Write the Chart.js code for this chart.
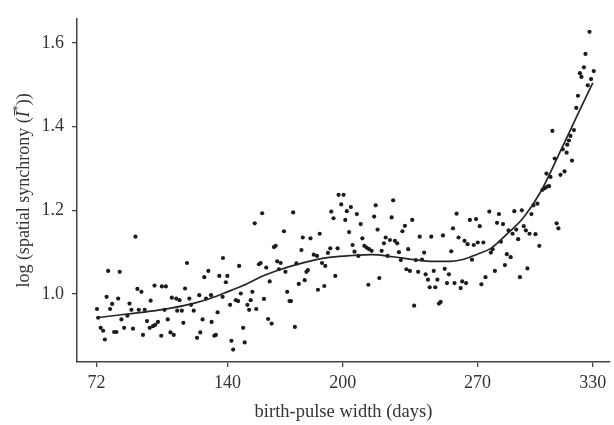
<!DOCTYPE html>
<html><head><meta charset="utf-8">
<script src="https://cdn.jsdelivr.net/npm/chart.js@4.4.1/dist/chart.umd.min.js"></script>
<style>html,body{margin:0;padding:0;background:#fff;}canvas{display:block;}</style>
</head><body>
<canvas id="c" width="614" height="425"></canvas>
<script>
const xTickLabels = [72, 140, 200, 270, 330];
const yTickLabels = [1.0, 1.2, 1.4, 1.6];
const xTitle = 'birth-pulse width (days)';
const yTitleParts = ['log (spatial synchrony (', 'Ī', '*', '))'];

const widthDays = [
  72.2,72.8,74.1,75.4,76.3,77.2,78.0,79.0,80.1,81.1,
  82.3,83.2,84.0,84.9,86.3,88.0,89.1,90.1,90.9,92.2,
  93.2,93.9,95.3,96.1,97.0,98.2,99.6,100.1,101.3,102.1,
  102.5,103.9,105.6,105.9,107.3,108.0,109.0,110.4,111.1,112.1,
  113.4,113.9,115.1,116.3,117.1,118.0,119.0,120.2,121.1,122.5,
  124.2,125.4,125.9,127.1,128.0,128.9,130.1,131.5,131.8,133.2,
  134.0,134.9,135.8,137.5,137.7,139.2,140.0,141.4,142.1,143.0,
  144.4,145.6,146.1,147.0,148.2,149.0,150.4,151.3,152.1,153.0,
  154.2,155.0,156.4,157.3,158.1,159.0,160.2,161.2,162.0,163.0,
  164.2,165.1,165.9,166.8,167.7,169.4,170.2,171.1,172.3,173.1,
  174.2,175.1,175.9,177.1,178.5,179.2,180.2,181.1,181.9,183.2,
  184.9,186.6,187.1,188.0,189.2,190.4,190.9,192.3,193.5,194.0,
  195.2,196.1,197.3,197.8,199.2,200.4,201.3,202.1,203.3,204.2,
  205.1,206.1,207.3,208.1,209.3,210.2,211.2,212.4,213.3,213.7,
  215.0,216.3,217.1,218.1,219.0,220.2,221.4,222.3,223.3,224.5,
  225.4,226.2,227.1,228.3,229.2,230.2,231.0,232.3,233.1,234.0,
  234.9,236.1,237.1,238.0,239.2,240.0,241.2,242.3,243.1,244.3,
  245.2,246.0,247.3,248.1,249.2,250.0,250.9,252.1,253.0,254.2,
  255.2,256.4,257.3,258.1,259.2,260.2,261.3,262.1,263.3,264.1,
  264.9,266.1,267.2,268.1,269.3,270.2,271.2,272.1,273.1,274.2,
  276.2,277.0,277.9,279.1,280.2,281.2,282.2,283.3,284.3,285.3,
  286.2,287.3,288.3,289.2,290.2,291.2,292.1,293.1,294.1,295.2,
  296.0,297.1,298.1,299.1,300.2,301.2,302.2,303.8,305.0,305.9,
  306.4,307.3,308.0,309.0,310.2,311.2,312.1,313.2,314.4,315.3,
  316.4,316.7,317.6,318.4,319.2,320.2,321.4,322.3,323.3,324.1,
  325.4,326.2,327.4,328.3,329.1,330.5
];
const logSync = [
  0.964,0.943,0.919,0.912,0.891,0.993,1.055,0.964,0.976,0.909,
  0.909,0.989,1.053,0.939,0.919,0.948,0.977,0.962,0.917,1.137,
  1.012,0.962,1.005,0.902,0.962,0.935,0.919,0.984,0.923,1.020,
  0.926,0.933,0.900,1.018,0.962,1.018,0.939,0.908,0.991,0.902,
  0.989,0.960,0.985,0.960,0.931,1.013,1.074,0.989,0.974,0.960,
  0.895,0.997,0.908,0.939,1.040,0.989,1.055,0.997,0.933,0.900,
  0.902,0.956,1.043,0.993,1.086,1.028,1.043,0.974,0.888,0.867,
  0.985,0.983,1.067,1.001,0.919,0.884,0.974,0.962,0.985,1.005,
  1.169,0.964,1.071,1.074,1.193,0.988,1.063,0.940,1.030,0.929,
  1.112,1.115,1.078,1.059,1.074,1.150,1.053,1.005,0.983,0.983,
  1.195,0.921,1.073,1.024,1.105,1.135,1.033,1.053,1.057,1.133,
  1.094,1.091,1.010,1.144,1.074,1.019,1.067,1.098,1.109,1.197,
  1.181,1.043,1.109,1.237,1.214,1.237,1.177,1.198,1.148,1.208,
  1.117,1.101,1.191,1.091,1.167,1.133,1.115,1.111,1.022,1.107,
  1.103,1.185,1.212,1.154,1.038,1.103,1.121,1.135,1.091,1.129,
  1.183,1.224,1.127,1.121,1.100,1.081,1.150,1.163,1.059,1.107,
  1.055,1.177,0.972,1.081,1.053,1.137,1.082,1.099,1.047,1.034,
  1.016,1.137,1.055,1.016,1.034,0.977,0.981,1.140,1.060,1.026,
  1.047,1.102,1.157,1.026,1.192,1.135,1.014,1.030,1.127,1.026,
  1.119,1.177,1.082,1.117,1.179,1.123,1.162,1.023,1.123,1.040,
  1.197,1.099,1.107,1.055,1.170,1.191,1.125,1.167,1.069,1.095,
  1.152,1.088,1.144,1.198,1.154,1.131,1.040,1.200,1.162,1.152,
  1.061,1.144,1.191,1.212,1.143,1.216,1.115,1.249,1.253,1.288,
  1.257,1.258,1.280,1.390,1.324,1.169,1.157,1.285,1.346,1.293,
  1.338,1.357,1.367,1.378,1.319,1.392,1.445,1.474,1.528,1.519,
  1.542,1.574,1.499,1.627,1.514,1.533
];

const fitDays = [72, 88, 105, 122, 131, 140, 150, 159, 168, 176, 185, 194, 205, 215, 226, 237, 247, 256, 263, 270, 277, 286, 294, 303, 312, 321, 330];
const fitValues = [0.943, 0.952, 0.962, 0.977, 0.989, 1.005, 1.024, 1.044, 1.059, 1.070, 1.081, 1.088, 1.092, 1.094, 1.089, 1.082, 1.078, 1.078, 1.083, 1.095, 1.109, 1.146, 1.183, 1.245, 1.330, 1.418, 1.505];

const FONT = '"Liberation Serif", "Times New Roman", serif';
const INK = '#333333';

const yTitlePlugin = {
  id: 'yTitle',
  afterDraw(chart) {
    const ctx = chart.ctx;
    const area = chart.chartArea;
    const fonts = ['18px ' + FONT, 'italic 18px ' + FONT, '12px ' + FONT, '18px ' + FONT];
    const dys = [0, 0, -6, 0];
    ctx.save();
    ctx.translate(24, (area.top + area.bottom) / 2);
    ctx.rotate(-Math.PI / 2);
    ctx.fillStyle = INK;
    ctx.textBaseline = 'middle';
    ctx.textAlign = 'left';
    let total = 0;
    const ws = yTitleParts.map((t, i) => { ctx.font = fonts[i]; const w = ctx.measureText(t).width; total += w; return w; });
    let x = -total / 2;
    yTitleParts.forEach((t, i) => { ctx.font = fonts[i]; ctx.fillText(t, x, dys[i]); x += ws[i]; });
    ctx.restore();
  }
};

Chart.defaults.font.family = FONT;
Chart.defaults.color = INK;

new Chart(document.getElementById('c'), {
  type: 'scatter',
  data: {
    datasets: [
      {
        type: 'line',
        data: fitDays.map((d, i) => ({ x: d, y: fitValues[i] })),
        borderColor: '#262626',
        borderWidth: 1.7,
        pointRadius: 0,
        fill: false,
        cubicInterpolationMode: 'monotone'
      },
      {
        data: widthDays.map((d, i) => ({ x: d, y: logSync[i] })),
        backgroundColor: '#1c1c1c',
        borderColor: '#1c1c1c',
        borderWidth: 0,
        pointRadius: 2.1
      }
    ]
  },
  options: {
    responsive: false,
    animation: false,
    devicePixelRatio: 1,
    layout: { padding: { top: 9, right: 1, bottom: 0, left: 0 } },
    plugins: { legend: { display: false }, tooltip: { enabled: false } },
    scales: {
      x: {
        type: 'linear',
        min: 61.8,
        max: 338.95,
        afterBuildTicks: (s) => { s.ticks = xTickLabels.map(v => ({ value: v })); },
        afterFit: (s) => { s.height = 63; },
        ticks: { font: { size: 18 }, color: INK, padding: 5, maxRotation: 0, autoSkip: false },
        grid: { drawOnChartArea: false, drawTicks: true, tickLength: 5, color: '#444', lineWidth: 1.3 },
        border: { display: true, color: '#444', width: 1.5 },
        title: { display: true, text: xTitle, font: { size: 18.5 }, color: INK, padding: 2 }
      },
      y: {
        type: 'linear',
        min: 0.8372,
        max: 1.6581,
        afterBuildTicks: (s) => { s.ticks = yTickLabels.map(v => ({ value: v })); },
        afterFit: (s) => { s.width = 77; },
        ticks: { font: { size: 18 }, color: INK, padding: 8, callback: (v) => Number(v).toFixed(1) },
        grid: { drawOnChartArea: false, drawTicks: true, tickLength: 5, color: '#444', lineWidth: 1.3 },
        border: { display: true, color: '#444', width: 1.5 }
      }
    }
  },
  plugins: [yTitlePlugin]
});
</script>
</body></html>
